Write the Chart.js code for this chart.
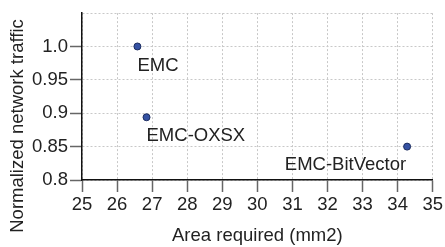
<!DOCTYPE html>
<html><head><meta charset="utf-8">
<script src="https://cdn.jsdelivr.net/npm/chart.js@4"></script>
<style>html,body{margin:0;padding:0;background:#fff}#wrap{width:445px;height:247px}</style>
</head><body><div id="wrap"><canvas id="c"></canvas></div>
<script>
const pointLabels = ["EMC", "EMC-OXSX", "EMC-BitVector"];
const areaValues = [26.58, 26.84, 34.27];
const trafficValues = [1.0, 0.894, 0.85];
const xTickValues = [25,26,27,28,29,30,31,32,33,34,35];
const yTickLabels = {"0.8":"0.8","0.85":"0.85","0.9":"0.9","0.95":"0.95","1":"1.0","1.05":""};
const xTitle = "Area required (mm2)";
const yTitle = "Normalized network traffic";

const FONT = "'Liberation Sans', Arial, sans-serif";
const FS = 18.5;
const labelPlugin = {
  id: 'labels',
  afterDatasetsDraw(chart) {
    const ctx = chart.ctx;
    const meta = chart.getDatasetMeta(0);
    const offs = [[0,19,'left'],[0,19,'left'],[-1,18,'right']];
    ctx.save();
    ctx.font = FS + "px " + FONT;
    ctx.fillStyle = "#222";
    ctx.textBaseline = 'middle';
    meta.data.forEach((el, i) => {
      const o = offs[i];
      ctx.textAlign = o[2];
      ctx.fillText(pointLabels[i], el.x + o[0], el.y + o[1]);
    });
    ctx.translate(18, 126);
    ctx.rotate(-Math.PI/2);
    ctx.textAlign = 'center';
    ctx.fillText(yTitle, 0, 0);
    ctx.restore();
  }
};

new Chart(document.getElementById('c'), {
  type: 'scatter',
  data: {
    datasets: [{
      data: areaValues.map((x, i) => ({x, y: trafficValues[i]})),
      backgroundColor: '#3552a3',
      borderColor: '#1c2c5e',
      borderWidth: 1,
      pointRadius: 3.5,
      pointHoverRadius: 3.5
    }]
  },
  options: {
    responsive: true,
    maintainAspectRatio: false,
    animation: false,
    events: [],
    layout: { padding: { top: 5, right: 12, left: 0, bottom: 0 } },
    plugins: { legend: { display: false }, tooltip: { enabled: false } },
    scales: {
      x: {
        type: 'linear', min: 25, max: 35,
        afterBuildTicks: s => { s.ticks = xTickValues.map(v => ({value: v})); },
        afterFit: s => { s.height = 67; },
        border: { color: '#111', width: 1.5, dash: [2,2] },
        grid: { color: '#c8c8c8', tickLength: 12, tickColor: '#666', tickBorderDash: [], tickWidth: 1.5 },
        ticks: { color: '#222', font: { family: FONT, size: FS }, padding: 2, maxRotation: 0 },
        title: { display: true, text: xTitle, color: '#222', font: { family: FONT, size: FS }, padding: { top: 2, bottom: 0 } }
      },
      y: {
        type: 'linear', min: 0.8, max: 1.05,
        afterBuildTicks: s => { s.ticks = [0.8,0.85,0.9,0.95,1.0,1.05].map(v => ({value: v})); },
        afterFit: s => { s.width = 82; },
        border: { color: '#111', width: 1.5, dash: [2,2] },
        grid: { color: '#c8c8c8', tickLength: 12,
                tickColor: c => (c.tick && c.tick.value > 1.01) ? 'rgba(0,0,0,0)' : '#666',
                tickBorderDash: [], tickWidth: 1.5 },
        ticks: { color: '#222', font: { family: FONT, size: FS }, padding: 2,
                 callback: v => yTickLabels[String(Math.round(v*100)/100)] }
      }
    }
  },
  plugins: [labelPlugin]
});
</script></body></html>
